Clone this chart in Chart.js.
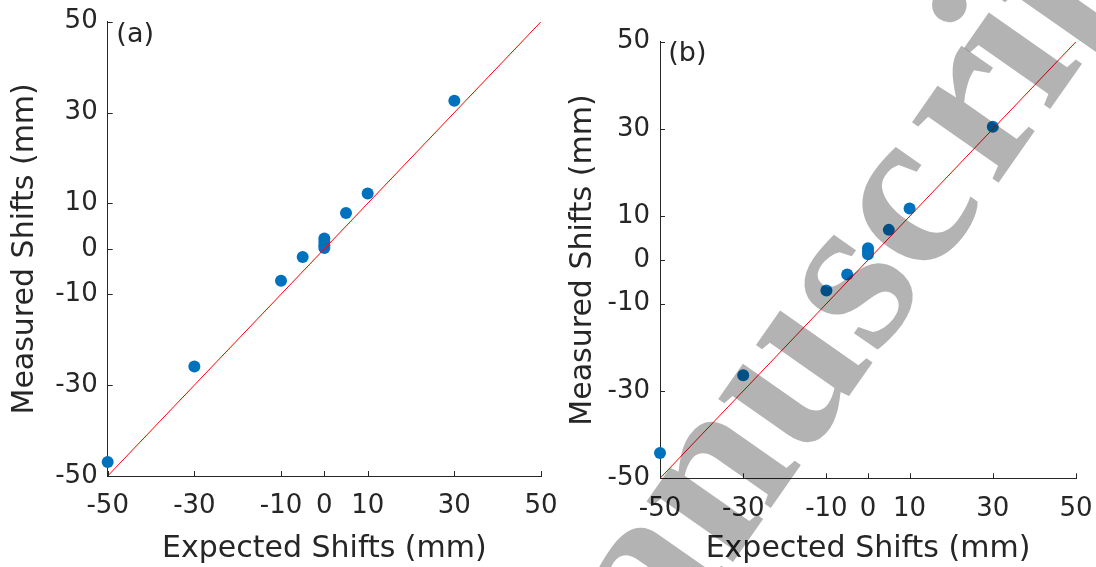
<!DOCTYPE html>
<html>
<head>
<meta charset="utf-8">
<script src="https://cdn.jsdelivr.net/npm/chart.js@4.4.0/dist/chart.umd.min.js"></script>
<style>
  html, body { margin: 0; padding: 0; background: #fff; }
  #wrapA { position: absolute; left: 0; top: 0; width: 560px; height: 567px; }
  #wrapB { position: absolute; left: 560px; top: 0; width: 536px; height: 567px; }
</style>
</head>
<body>
<div id="wrapA"><canvas id="chartA"></canvas></div>
<div id="wrapB"><canvas id="chartB"></canvas></div>
<script>
// tick values shared by both panels
const xTicks = [-50, -30, -10, 0, 10, 30, 50]
const yTicks = [-50, -30, -10, 0, 10, 30, 50]

// panel (a)
const expectedA = [-50, -30, -10, -5, 0, 0, 0, 0, 5, 10, 30]
const measuredA = [-46.9, -25.9, -7.0, -1.8, 0.2, 0.8, 1.5, 2.3, 7.9, 12.2, 32.6]

// panel (b)
const expectedB = [-50, -30, -10, -5, 0, 0, 0, 5, 10, 30]
const measuredB = [-44.2, -26.4, -7.0, -3.3, 1.3, 2.0, 2.7, 6.9, 11.8, 30.5]

// y = x reference line
const identityLine = [-50, 50]

const textColor = '#262626'
const fontFamily = '"DejaVu Sans", sans-serif'

// MATLAB style ticks pointing into the axes + panel label
const innerTicks = {
    id: 'innerTicks',
    afterDraw(chart, args, opts) {
        const ctx = chart.ctx
        const xs = chart.scales.x, ys = chart.scales.y
        ctx.save()
        ctx.strokeStyle = textColor
        ctx.lineWidth = 1
        ctx.beginPath()
        xTicks.forEach(v => {
            const p = Math.round(xs.getPixelForValue(v)) + 0.5
            ctx.moveTo(p, ys.bottom)
            ctx.lineTo(p, ys.bottom - 5)
        })
        yTicks.forEach(v => {
            const p = Math.round(ys.getPixelForValue(v)) + 0.5
            ctx.moveTo(xs.left, p)
            ctx.lineTo(xs.left + 5, p)
        })
        ctx.stroke()
        ctx.fillStyle = textColor
        ctx.font = '27px ' + fontFamily
        ctx.textBaseline = 'alphabetic'
        ctx.textAlign = 'left'
        ctx.fillText(opts.label, xs.getPixelForValue(-48), ys.getPixelForValue(45.5))
        ctx.restore()
    }
}

// grey "Manuscript" stamp over panel (b), pieces placed along a slanted baseline
const stampPieces = [['Manusc', 0], ['r', 795], ['ipt', 886]]
const watermark = {
    id: 'watermark',
    afterDraw(chart) {
        const ctx = chart.ctx
        ctx.save()
        ctx.globalCompositeOperation = 'multiply'
        ctx.fillStyle = '#b3b3b3'
        ctx.font = 'bold 230px "Liberation Serif", serif'
        ctx.translate(539 - 560, 839)
        ctx.rotate(-55 * Math.PI / 180)
        ctx.textBaseline = 'alphabetic'
        stampPieces.forEach(([txt, off]) => ctx.fillText(txt, off, 0))
        ctx.restore()
    }
}

function buildChart(canvasId, expected, measured, cfg, extraPlugins) {
    return new Chart(document.getElementById(canvasId), {
        type: 'scatter',
        data: {
            datasets: [
                {
                    type: 'line',
                    showLine: true,
                    data: identityLine.map(v => ({x: v, y: v})),
                    borderColor: '#ff0000',
                    borderWidth: 1,
                    pointRadius: 0,
                    fill: false
                },
                {
                    data: expected.map((x, i) => ({x: x, y: measured[i]})),
                    backgroundColor: '#0072bd',
                    borderWidth: 0,
                    pointRadius: 6,
                    clip: false
                }
            ]
        },
        options: {
            responsive: true,
            maintainAspectRatio: false,
            animation: false,
            layout: {padding: cfg.padding},
            plugins: {
                legend: {display: false},
                tooltip: {enabled: false},
                innerTicks: {label: cfg.label}
            },
            scales: {
                x: {
                    type: 'linear', min: -50, max: 50,
                    afterBuildTicks: s => { s.ticks = xTicks.map(v => ({value: v})) },
                    afterFit: s => { s.height = cfg.xHeight; s.paddingLeft = 0; s.paddingRight = 0 },
                    grid: {display: false, drawTicks: false},
                    border: {display: true, color: textColor, width: 1},
                    ticks: {color: textColor, font: {family: fontFamily, size: 26}, padding: 15, maxRotation: 0, autoSkip: false},
                    title: {display: true, text: 'Expected Shifts (mm)', color: textColor,
                        font: {family: fontFamily, size: 30}, padding: {top: 0, bottom: 0}}
                },
                y: {
                    type: 'linear', min: -50, max: 50,
                    afterBuildTicks: s => { s.ticks = yTicks.map(v => ({value: v})) },
                    afterFit: s => { s.width = cfg.yWidth; s.paddingTop = 0; s.paddingBottom = 0 },
                    grid: {display: false, drawTicks: false},
                    border: {display: true, color: textColor, width: 1},
                    ticks: {color: textColor, font: {family: fontFamily, size: 26}, padding: 10, autoSkip: false},
                    title: {display: true, text: 'Measured Shifts (mm)', color: textColor,
                        font: {family: fontFamily, size: 30}, padding: {top: cfg.yTitlePad, bottom: 0}}
                }
            }
        },
        plugins: [innerTicks].concat(extraPlugins || [])
    })
}

buildChart('chartA', expectedA, measuredA, {
    padding: {left: 0, right: 19, top: 21.7, bottom: 0},
    xHeight: 91, yWidth: 107.7, yTitlePad: 7, label: '(a)'
})

buildChart('chartB', expectedB, measuredB, {
    padding: {left: 0, right: 20, top: 41.7, bottom: 0},
    xHeight: 88.7, yWidth: 100, yTitlePad: 5.6, label: '(b)'
}, [watermark])
</script>
</body>
</html>
